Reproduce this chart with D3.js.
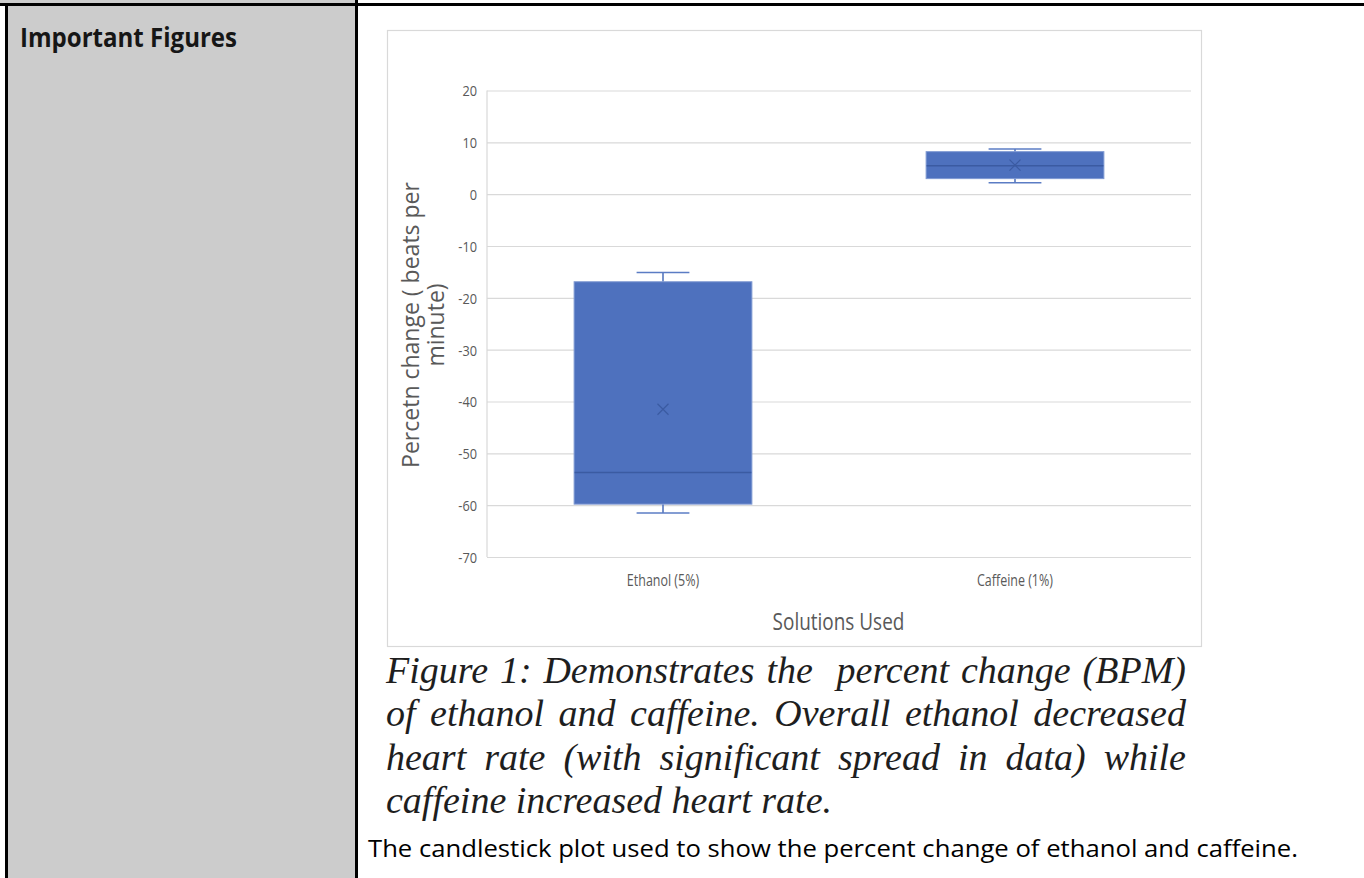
<!DOCTYPE html>
<html>
<head>
<meta charset="utf-8">
<script src="https://cdn.jsdelivr.net/npm/d3@7"></script>
<style>
	body { margin: 0; background: #fff; }
	#page { position: relative; width: 1364px; height: 878px; overflow: hidden; }
	svg { position: absolute; left: 0; top: 0; }
	#caption {
		position: absolute; left: 386px; top: 648.5px; width: 800px;
		font: italic 38px "Liberation Serif", "Times New Roman", serif;
		line-height: 43.5px; color: #1e1e1e;
	}
	#caption div { text-align: justify; text-align-last: justify; white-space: nowrap; }
	#caption div.last { text-align: left; text-align-last: left; }
</style>
</head>
<body>
<div id="page">
	<svg id="svg" width="1364" height="878"></svg>
	<div id="caption"></div>
</div>
<script>
// данные
var categories = ["Ethanol (5%)", "Caffeine (1%)"];
var minVals    = [-61.5, 2.2];
var q1Vals     = [-59.8, 3.0];
var medianVals = [-53.7, 5.5];
var q3Vals     = [-16.9, 8.2];
var maxVals    = [-15.1, 8.7];
var meanVals   = [-41.5, 5.6];
var yTicks     = [20, 10, 0, -10, -20, -30, -40, -50, -60, -70];

var yTitle = ["Percetn change ( beats per", "minute)"];
var xTitle = "Solutions Used";
var rowTitle = "Important Figures";
var captionLines = [
	"Figure 1: Demonstrates the\u00a0 percent change (BPM)",
	"of ethanol and caffeine. Overall ethanol decreased",
	"heart rate (with significant spread in data) while",
	"caffeine increased heart rate."
];
var note = "The candlestick plot used to show the percent change of ethanol and caffeine.";

var D = categories.map(function (c, i) {
	return {cat: c, min: minVals[i], q1: q1Vals[i], med: medianVals[i], q3: q3Vals[i], max: maxVals[i], mean: meanVals[i]};
});

var svg = d3.select("#svg");

// таблица документа
svg.append("rect").attr("x", 0).attr("y", 0).attr("width", 355).attr("height", 3).attr("fill", "#cccccc");
svg.append("rect").attr("x", 8).attr("y", 6).attr("width", 347).attr("height", 872).attr("fill", "#cccccc");
svg.append("rect").attr("x", 0).attr("y", 3).attr("width", 1364).attr("height", 3).attr("fill", "#000");
svg.append("rect").attr("x", 5).attr("y", 3).attr("width", 3).attr("height", 875).attr("fill", "#000");
svg.append("rect").attr("x", 355).attr("y", 0).attr("width", 3).attr("height", 878).attr("fill", "#000");

svg.append("text")
	.attr("x", 20).attr("y", 47)
	.attr("textLength", 217).attr("lengthAdjust", "spacingAndGlyphs")
	.style("font", "bold 26px 'Open Sans', sans-serif")
	.attr("fill", "#161616")
	.text(rowTitle);

svg.append("text")
	.attr("x", 368).attr("y", 857)
	.attr("textLength", 930).attr("lengthAdjust", "spacingAndGlyphs")
	.style("font", "24px 'Open Sans', sans-serif")
	.attr("fill", "#000")
	.text(note);

// рамка графика
svg.append("rect")
	.attr("x", 387.5).attr("y", 30.5).attr("width", 814).attr("height", 616)
	.attr("fill", "#fff").attr("stroke", "#d9d9d9").attr("stroke-width", 1.2);

var plot = {left: 487, right: 1191, top: 90.5, bottom: 557};

var x = d3.scaleBand().domain(categories).range([plot.left, plot.right]);
var y = d3.scaleLinear().domain([-70, 20]).range([plot.bottom, plot.top]);

var gray = "#595959";

// ось y с сеткой
var yAxis = d3.axisLeft(y)
	.tickValues(yTicks)
	.tickFormat(function (d) { return String(d); })
	.tickSize(-(plot.right - plot.left))
	.tickPadding(0);
var gy = svg.append("g")
	.attr("transform", "translate(" + plot.left + ",0)")
	.call(yAxis);
gy.select(".domain").remove();
gy.selectAll(".tick line").attr("stroke", "#d9d9d9").attr("stroke-width", 1.2);
var kTick = 0.85;
gy.selectAll(".tick text")
	.attr("x", -10 / kTick)
	.attr("dy", "0.36em")
	.attr("transform", "scale(" + kTick + ",1)")
	.attr("fill", gray)
	.style("font", "15px 'Open Sans', sans-serif");

svg.append("line")
	.attr("x1", plot.left).attr("x2", plot.left)
	.attr("y1", y(20)).attr("y2", y(-70))
	.attr("stroke", "#d9d9d9").attr("stroke-width", 1.2);

// подписи категорий
var kCat = 0.78;
svg.append("g").selectAll("text")
	.data(categories)
	.enter().append("text")
	.attr("x", function (d) { return (x(d) + x.bandwidth() / 2) / kCat; })
	.attr("y", 586.5)
	.attr("transform", "scale(" + kCat + ",1)")
	.attr("text-anchor", "middle")
	.attr("fill", gray)
	.style("font", "16px 'Open Sans', sans-serif")
	.text(function (d) { return d; });

var kTitle = 0.79;
svg.append("text")
	.attr("x", 838.5 / kTitle).attr("y", 630)
	.attr("transform", "scale(" + kTitle + ",1)")
	.attr("text-anchor", "middle")
	.attr("fill", gray)
	.style("font", "24px 'Open Sans', sans-serif")
	.text(xTitle);

svg.append("g").selectAll("text")
	.data(yTitle)
	.enter().append("text")
	.attr("transform", function (d, i) { return "translate(" + (419 + i * 25) + ",325) rotate(-90)"; })
	.attr("text-anchor", "middle")
	.attr("fill", gray)
	.style("font", "23px 'Open Sans', sans-serif")
	.text(function (d) { return d; });

// ящики
var boxW = x.bandwidth() * 0.505,
	capW = x.bandwidth() * 0.15,
	fill = "#4e71be",
	edge = "#7f99d2",
	dark = "#3b5ba2";

var box = svg.append("g").selectAll(".box")
	.data(D)
	.enter().append("g")
	.attr("class", "box")
	.attr("transform", function (d) { return "translate(" + (x(d.cat) + x.bandwidth() / 2) + ",0)"; });

// усы
box.append("line")
	.attr("x1", 0).attr("x2", 0)
	.attr("y1", function (d) { return y(d.max); })
	.attr("y2", function (d) { return y(d.q3); })
	.attr("stroke", "#4a6cb9").attr("stroke-width", 1.5);
box.append("line")
	.attr("x1", 0).attr("x2", 0)
	.attr("y1", function (d) { return y(d.q1); })
	.attr("y2", function (d) { return y(d.min); })
	.attr("stroke", "#4a6cb9").attr("stroke-width", 1.5);
box.append("line")
	.attr("x1", -capW / 2).attr("x2", capW / 2)
	.attr("y1", function (d) { return y(d.max); })
	.attr("y2", function (d) { return y(d.max); })
	.attr("stroke", "#5b7cc4").attr("stroke-width", 1.6);
box.append("line")
	.attr("x1", -capW / 2).attr("x2", capW / 2)
	.attr("y1", function (d) { return y(d.min); })
	.attr("y2", function (d) { return y(d.min); })
	.attr("stroke", "#5b7cc4").attr("stroke-width", 1.6);

box.append("rect")
	.attr("x", -boxW / 2)
	.attr("y", function (d) { return y(d.q3); })
	.attr("width", boxW)
	.attr("height", function (d) { return y(d.q1) - y(d.q3); })
	.attr("fill", fill).attr("stroke", edge).attr("stroke-width", 1);

box.append("line")
	.attr("x1", -boxW / 2 + 0.5).attr("x2", boxW / 2 - 0.5)
	.attr("y1", function (d) { return y(d.med); })
	.attr("y2", function (d) { return y(d.med); })
	.attr("stroke", dark).attr("stroke-width", 1.5);

// среднее (крестик)
var m = 5.5;
box.append("path")
	.attr("d", function (d) {
		var cy = y(d.mean);
		return "M" + (-m) + "," + (cy - m) + "L" + m + "," + (cy + m) +
			"M" + m + "," + (cy - m) + "L" + (-m) + "," + (cy + m);
	})
	.attr("stroke", dark).attr("stroke-width", 1.2).attr("fill", "none");

// подпись к рисунку
d3.select("#caption").selectAll("div")
	.data(captionLines)
	.enter().append("div")
	.attr("class", function (d, i) { return i === captionLines.length - 1 ? "last" : null; })
	.text(function (d) { return d; });
</script>
</body>
</html>
